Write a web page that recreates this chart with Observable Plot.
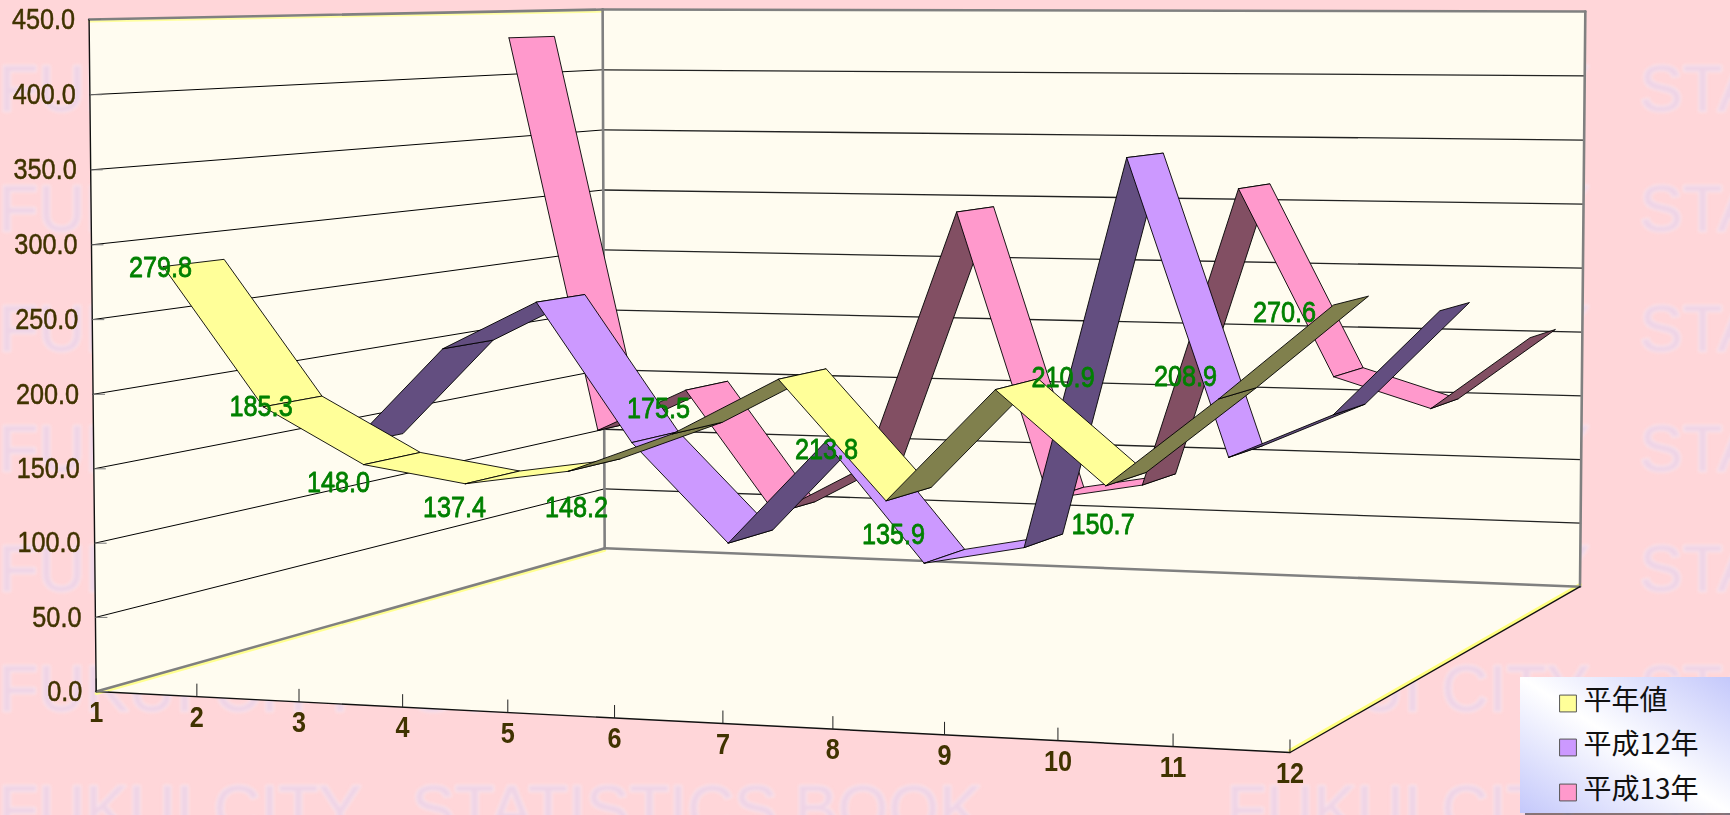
<!DOCTYPE html>
<html><head><meta charset="utf-8">
<style>html,body{margin:0;padding:0;background:#ffd6d9;overflow:hidden}</style>
<script src="https://cdn.jsdelivr.net/npm/d3@7"></script>
<script src="https://cdn.jsdelivr.net/npm/@observablehq/plot@0.6"></script>
</head><body><div id="chart"></div>
<script>
// ---- data ----
const months = [1,2,3,4,5,6,7,8,9,10,11,12];
const normalValues = [279.8,185.3,148.0,137.4,148.2,175.5,213.8,135.9,210.9,150.7,208.9,270.6];
const h12Values = [131,204,240,139,68,144,59,73,351,142,174,248];
const h13Values = [429,118,152,57,96,296,76,89,317,176,154,209];
const seriesNames = ["平年値","平成12年","平成13年"];
const valueTicks = [0,50,100,150,200,250,300,350,400,450];
// hand-placed label centres of the data labels, as in the reference
const labelX = [160,260.6,338,454,576,658,826,893,1062.6,1102.6,1185,1284];
const labelY = [267,406,482,507,507.7,408,449,534,377,524,376,312];
// watermark
const wmWords = ["FUKUI","CITY","STATISTICS","BOOK","FUKUI","CITY","STA"];
const wmStart = [-2,213,411,794,1226,1441,1639];
const wmRows = [90,210,330,450,570,690,810];

// ---- 3D camera: (month, depth 0..3, value) -> screen ----
function project(month, depth, value){
  const m=(month-1)/11, d=depth/3, v=value/450;
  const w=1-0.0791*m+0.2475*d-0.0089*v;
  return {x:(95.7+1091.8*m+658*d-7.9*v)/w, y:(691+1.52*m-7.6*d-672.2*v)/w};
}
const lo=1, hi=12, vTop=450;
const halfBand=0.155;
const light=["#ffff99","#cc99ff","#ff99cc"];
const dark=["#80804d","#634e80","#824f63"];
const all=[normalValues,h12Values,h13Values];

function poly(id,corners,fill){
  const p=corners.map(c=>project(...c));
  return [...p,p[0]].map(q=>({id,fill,x:q.x,y:q.y}));
}
const walls=[
  ...poly("floor",[[lo,0,0],[hi,0,0],[hi,3,0],[lo,3,0]],"#fffcf0"),
  ...poly("left",[[lo,0,0],[lo,3,0],[lo,3,vTop],[lo,0,vTop]],"#fffcf0"),
  ...poly("back",[[lo,3,0],[hi,3,0],[hi,3,vTop],[lo,3,vTop]],"#fffcf0")
];
// ribbons, back series first, months left to right
const ribbons=[];
[2,1,0].forEach(s=>{
  const vals=all[s], c=s+0.5;
  for(let i=0;i<11;i++){
    const c4=[[months[i],c-halfBand,vals[i]],[months[i+1],c-halfBand,vals[i+1]],
              [months[i+1],c+halfBand,vals[i+1]],[months[i],c+halfBand,vals[i]]];
    const p=c4.map(q=>project(...q));
    let area=0; p.forEach((a,k)=>{const b=p[(k+1)%4]; area+=a.x*b.y-b.x*a.y;});
    ribbons.push(...poly(`s${s}m${i}`,c4,area<0?light[s]:dark[s]));
  }
});
const seg=(id,a,b)=>[project(...a),project(...b)].map(p=>({id,...p}));
const leftGrid=valueTicks.slice(1,-1).flatMap(v=>seg("l"+v,[lo,0,v],[lo,3,v]));
const backGrid=valueTicks.slice(1,-1).flatMap(v=>seg("b"+v,[lo,3,v],[hi,3,v]));
const greyFrame=[
  ...seg("a",[lo,0,0],[lo,3,0]),...seg("b",[lo,3,0],[hi,3,0]),
  ...seg("c",[lo,3,0],[lo,3,vTop]),...seg("d",[lo,0,vTop],[lo,3,vTop]),
  ...seg("e",[lo,3,vTop],[hi,3,vTop]),...seg("f",[hi,3,vTop],[hi,3,0])
];
const blackFrame=[...seg("g",[lo,0,0],[lo,0,vTop]),...seg("h",[lo,0,0],[hi,0,0]),...seg("i",[hi,0,0],[hi,3,0])];
const valueLabels=valueTicks.map(v=>{const p=project(lo,0,v);return {t:v.toFixed(1),x:p.x-14,y:p.y,x2:p.x+12,x1:p.x};});
const monthLabels=months.map(m=>{const p=project(m,0,0);return {t:String(m),x:p.x,y:p.y+21,y0:p.y,y1:p.y-13};});
const dataLabels=normalValues.map((v,i)=>({t:v.toFixed(1),x:labelX[i],y:labelY[i]}));
const wm=[];
for(const y of wmRows) wmWords.forEach((w,i)=>wm.push({t:w,x:wmStart[i],y}));
const legendY=[703,747,792];
const legend=seriesNames.map((n,i)=>({n,y:legendY[i],c:light[i]}));

const gradient=()=>{
  const defs=d3.create("svg:defs");
  const g=defs.append("linearGradient").attr("id","legendGrad").attr("x1",0).attr("y1",1).attr("x2",1).attr("y2",0);
  g.append("stop").attr("offset",0).attr("stop-color","#c4c8fb");
  g.append("stop").attr("offset",0.5).attr("stop-color","#ffffff");
  g.append("stop").attr("offset",1).attr("stop-color","#c4c8fb");
  return defs.node();
};
const f="'Liberation Sans',Arial,sans-serif", ink="#403300", green="#008000";

const chartSvg=Plot.plot({
  width:1730,height:815,margin:0,
  x:{domain:[0,1730],range:[0,1730],axis:null},
  y:{domain:[0,815],range:[0,815],axis:null},
  color:{type:"identity"},
  style:{background:"#ffd6d9"},
  marks:[
    gradient,
    Plot.text(wm,{x:"x",y:"y",text:"t",textAnchor:"start",fontSize:65,fontFamily:f,fill:"#efd4e6",stroke:"#fae4ea",strokeWidth:3,imageFilter:"blur(1.5px)"}),
    Plot.line(walls,{x:"x",y:"y",z:"id",fill:"fill",stroke:"none"}),
    Plot.line(seg("fy",[lo,0,0],[lo,3,0]),{x:"x",y:"y",z:"id",stroke:"#ffff90",strokeWidth:3,dy:2}),
    Plot.line(seg("ry",[hi,0,0],[hi,3,0]),{x:"x",y:"y",z:"id",stroke:"#ffff80",strokeWidth:3.5,dy:-2}),
    Plot.line(seg("ty",[lo,0,vTop],[lo,3,vTop]),{x:"x",y:"y",z:"id",stroke:"#ffffa0",strokeWidth:2,dy:2}),
    Plot.line(leftGrid,{x:"x",y:"y",z:"id",stroke:"#000",strokeWidth:1}),
    Plot.line(backGrid,{x:"x",y:"y",z:"id",stroke:"#222",strokeWidth:1.3}),
    Plot.line(greyFrame,{x:"x",y:"y",z:"id",stroke:"#808080",strokeWidth:2.6}),
    Plot.line(blackFrame,{x:"x",y:"y",z:"id",stroke:"#111",strokeWidth:1.4}),
    Plot.link(valueLabels,{x1:"x1",x2:"x2",y1:"y",y2:"y",stroke:"#777",strokeWidth:1}),
    Plot.link(monthLabels,{x1:"x",x2:"x",y1:"y0",y2:"y1",stroke:"#222",strokeWidth:1}),
    Plot.line(ribbons,{x:"x",y:"y",z:"id",fill:"fill",stroke:"#000",strokeWidth:0.9,strokeLinejoin:"round"}),
    Plot.text(valueLabels,{x:"x",y:"y",text:"t",textAnchor:"end",fontSize:29,fontFamily:f,fill:ink,stroke:ink,strokeWidth:0.5,className:"narrow"}),
    Plot.text(monthLabels,{x:"x",y:"y",text:"t",fontSize:29,fontFamily:f,fontWeight:"bold",fill:ink,className:"narrow"}),
    Plot.text(dataLabels,{x:"x",y:"y",text:"t",fontSize:29,fontFamily:f,fill:green,stroke:green,strokeWidth:0.8,className:"narrow"}),
    Plot.rect([0],{x1:()=>1520,x2:()=>1730,y1:()=>677,y2:()=>813,fill:"url(#legendGrad)"}),
    Plot.ruleY([813.5],{x1:1525,x2:1730,stroke:"#111",strokeWidth:1}),
    Plot.dot(legend,{x:()=>1567.5,y:"y",symbol:"square",r:9.5,fill:"c",stroke:"#555",strokeWidth:1}),
    Plot.text(legend,{x:()=>1583,y:d=>d.y-2,text:"n",textAnchor:"start",fontSize:28,fontFamily:"'Noto Sans CJK JP'",fill:"#111"})
  ]
});
// the reference's digits are tall and narrow: squeeze them horizontally
chartSvg.querySelectorAll(".narrow text").forEach(t=>{
  t.setAttribute("transform",(t.getAttribute("transform")||"")+" scale(0.87,1)");
});
document.getElementById("chart").append(chartSvg);
</script></body></html>
